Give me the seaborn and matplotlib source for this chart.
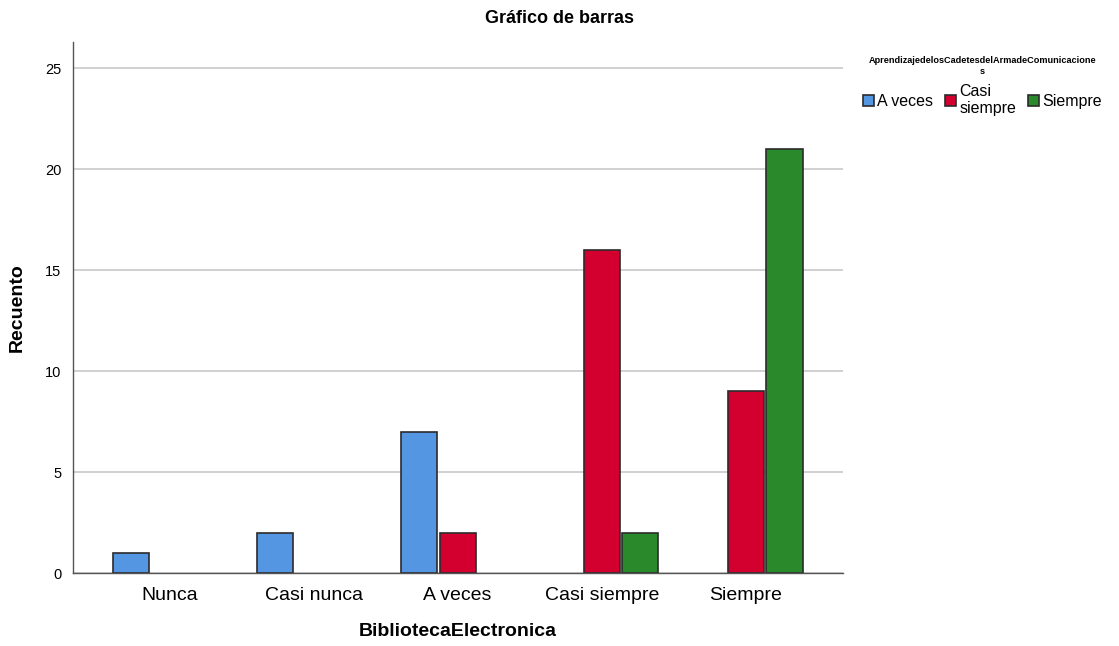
import pandas as pd
import matplotlib
matplotlib.use("Agg")
import matplotlib.pyplot as plt
import seaborn as sns

# x categories and hue groups
biblioteca = ["Nunca", "Casi nunca", "A veces", "Casi siempre", "Siempre"]
aprendizaje = ["A veces", "Casi\nsiempre", "Siempre"]

# counts per hue group, aligned with biblioteca (0 = no bar drawn)
a_veces = [1, 2, 7, 0, 0]
casi_siempre = [0, 0, 2, 16, 9]
siempre = [0, 0, 0, 2, 21]

colors = ["#5596e3", "#d3002f", "#2a8a2b"]

rows = []
for group, vals in zip(aprendizaje, [a_veces, casi_siempre, siempre]):
    for cat, v in zip(biblioteca, vals):
        if v > 0:
            rows.append({"BibliotecaElectronica": cat, "grupo": group, "Recuento": v})
df = pd.DataFrame(rows)

sns.set_style("white")
plt.rcParams["font.family"] = ["Liberation Sans", "DejaVu Sans"]
plt.rcParams["text.color"] = "black"

fig = plt.figure(figsize=(11.19, 6.46), dpi=100)
ax = fig.add_axes([0.065, 0.113, 0.688, 0.822])

sns.barplot(
    data=df, x="BibliotecaElectronica", y="Recuento", hue="grupo",
    order=biblioteca, hue_order=aprendizaje, palette=colors, saturation=1,
    width=0.8, gap=0.06, edgecolor="#2b2b2b", linewidth=1.2,
    dodge=True, ax=ax, legend=True,
)

ax.set_xlim(-0.67, 4.67)
ax.set_ylim(0, 26.3)
ax.set_yticks([0, 5, 10, 15, 20, 25])
ax.yaxis.grid(True, color="#c8c8c8", linewidth=1.2)
ax.set_axisbelow(True)
for s in ["top", "right"]:
    ax.spines[s].set_visible(False)
for s in ["left", "bottom"]:
    ax.spines[s].set_color("#555555")
    ax.spines[s].set_linewidth(1.0)
ax.tick_params(axis="x", labelsize=14, length=0, pad=10, colors="black")
ax.tick_params(axis="y", labelsize=10.5, length=0, pad=8, colors="black")
ax.set_xlabel("BibliotecaElectronica", fontsize=14, fontweight="bold", labelpad=14, color="black")
ax.set_ylabel("Recuento", fontsize=14, fontweight="bold", labelpad=14, color="black")

fig.suptitle("Gráfico de barras", x=0.5, y=0.985, fontsize=13, fontweight="bold")

handles, labels = ax.get_legend_handles_labels()
ax.legend_.remove()
leg = fig.legend(
    handles, labels, loc="upper left", bbox_to_anchor=(0.758, 0.935),
    ncol=3, frameon=False, fontsize=11.5, handlelength=0.7, handleheight=0.7,
    handletextpad=0.2, columnspacing=0.75,
    title="AprendizajedelosCadetesdelArmadeComunicacione\ns",
    title_fontproperties={"size": 6.6, "weight": "bold"},
)
leg.get_title().set_multialignment("center")

fig.savefig("out.png", dpi=100)
